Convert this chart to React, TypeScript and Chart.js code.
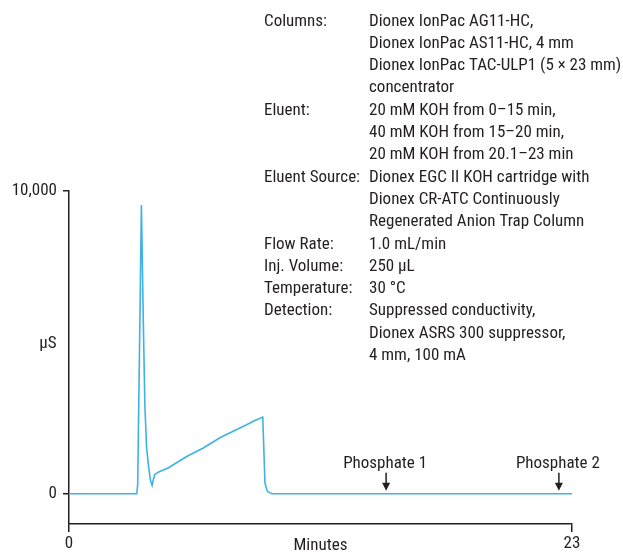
import React, { useEffect, useRef } from "react";
import { Chart, registerables } from "chart.js";

Chart.register(...registerables);

// Chromatogram trace (minutes, µS)
const times = [0, 3.1, 3.14, 3.23, 3.31, 3.4, 3.47, 3.55, 3.64, 3.72, 3.8, 3.86, 3.92, 4.1, 4.53, 5.38, 6.14, 6.9, 8.12, 8.5, 8.86, 8.96, 9.05, 9.11, 9.28, 23];
const signal = [0, 0, 300, 5080, 9540, 5600, 2900, 1500, 900, 450, 275, 480, 630, 720, 850, 1230, 1510, 1850, 2280, 2420, 2530, 360, 120, 60, 0, 0];

const xTicks = [0, 23];
const yTicks = [0, 10000];

const peakNames = ["Phosphate 1", "Phosphate 2"];
const peakTimes = [14.5, 22.4];

const condLabels = ["Columns:", "", "", "", "Eluent:", "", "", "Eluent Source:", "", "", "Flow Rate:", "Inj. Volume:", "Temperature:", "Detection:", "", ""];
const condValues = [
  "Dionex IonPac AG11-HC,",
  "Dionex IonPac AS11-HC, 4 mm",
  "Dionex IonPac TAC-ULP1 (5 × 23 mm)",
  "concentrator",
  "20 mM KOH from 0–15 min,",
  "40 mM KOH from 15–20 min,",
  "20 mM KOH from 20.1–23 min",
  "Dionex EGC II KOH cartridge with",
  "Dionex CR-ATC Continuously",
  "Regenerated Anion Trap Column",
  "1.0 mL/min",
  "250 µL",
  "30 °C",
  "Suppressed conductivity,",
  "Dionex ASRS 300 suppressor,",
  "4 mm, 100 mA",
];

const FONT = "'Liberation Sans Narrow', 'Roboto Condensed', 'DejaVu Sans Condensed', 'Liberation Sans', sans-serif";
const INK = "#231f20";

const overlay = {
  id: "overlay",
  afterDraw(chart: any) {
    const { ctx, scales } = chart;
    const xs = scales.x;
    const ys = scales.y;
    ctx.save();
    ctx.fillStyle = INK;
    ctx.strokeStyle = INK;
    ctx.font = `17px ${FONT}`;
    ctx.textBaseline = "alphabetic";
    ctx.textAlign = "left";
    for (let i = 0; i < condValues.length; i++) {
      const y = 25.5 + i * 22.3;
      if (condLabels[i]) ctx.fillText(condLabels[i], 264, y);
      ctx.fillText(condValues[i], 369, y);
    }
    // axis titles
    ctx.textAlign = "center";
    ctx.textBaseline = "middle";
    ctx.fillText("µS", 48, 344);
    ctx.fillText("Minutes", (xs.left + xs.right) / 2, 546);
    // peak arrows
    const y0 = ys.getPixelForValue(0);
    for (let i = 0; i < peakNames.length; i++) {
      const px = xs.getPixelForValue(peakTimes[i]);
      ctx.textAlign = "center";
      ctx.textBaseline = "alphabetic";
      ctx.fillText(peakNames[i], px - 1, y0 - 26);
      ctx.lineWidth = 1.5;
      ctx.beginPath();
      ctx.moveTo(px, y0 - 21);
      ctx.lineTo(px, y0 - 8);
      ctx.stroke();
      ctx.beginPath();
      ctx.moveTo(px - 4, y0 - 11);
      ctx.lineTo(px + 4, y0 - 11);
      ctx.lineTo(px, y0 - 3);
      ctx.closePath();
      ctx.fill();
    }
    ctx.restore();
  },
};

export default function App() {
  const ref = useRef<HTMLCanvasElement>(null);
  useEffect(() => {
    if (!ref.current) return;
    const chart = new Chart(ref.current, {
      type: "line",
      data: {
        datasets: [
          {
            data: times.map((t, i) => ({ x: t, y: signal[i] })),
            borderColor: "#3fb2e5",
            borderWidth: 1.6,
            pointRadius: 0,
            tension: 0,
            fill: false,
          },
        ],
      },
      options: {
        animation: false,
        responsive: false,
        maintainAspectRatio: false,
        layout: { padding: { top: 191, right: 51, left: 0, bottom: 0 } },
        plugins: { legend: { display: false }, tooltip: { enabled: false } },
        scales: {
          x: {
            type: "linear",
            min: 0,
            max: 23,
            afterBuildTicks: (s: any) => {
              s.ticks = xTicks.map((v) => ({ value: v }));
            },
            afterFit: (s: any) => {
              s.height = 28;
            },
            grid: { drawOnChartArea: false, drawTicks: true, tickLength: 8, color: INK, lineWidth: 1.5 },
            border: { color: INK, width: 1.5 },
            ticks: { font: { family: FONT, size: 17 }, color: INK, padding: 2, maxRotation: 0 },
          },
          y: {
            type: "linear",
            min: -1000,
            max: 10000,
            afterBuildTicks: (s: any) => {
              s.ticks = yTicks.map((v) => ({ value: v }));
            },
            afterFit: (s: any) => {
              s.width = 69;
            },
            grid: { drawOnChartArea: false, drawTicks: true, tickLength: 6, color: INK, lineWidth: 1.5 },
            border: { color: INK, width: 1.5 },
            ticks: {
              font: { family: FONT, size: 17 },
              color: INK,
              padding: 6,
              callback: (v: any) => (v === 10000 ? "10,000" : String(v)),
            },
          },
        },
      },
      plugins: [overlay],
    });
    return () => chart.destroy();
  }, []);
  return (
    <div style={{ position: "absolute", left: 0, top: 0, width: 623, height: 552, background: "#fff" }}>
      <canvas ref={ref} width={623} height={552} style={{ width: 623, height: 552 }} />
    </div>
  );
}
